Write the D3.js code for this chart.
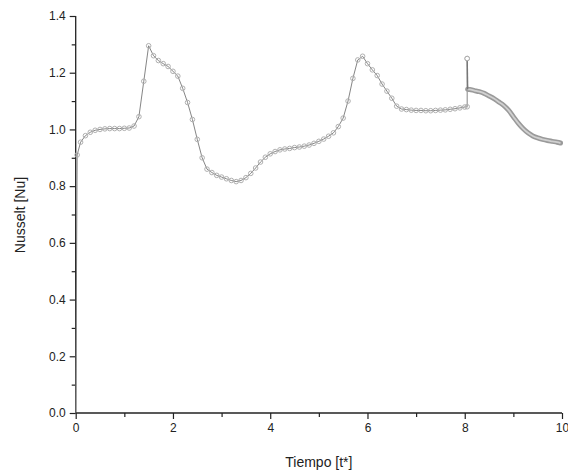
<!DOCTYPE html>
<html><head><meta charset="utf-8">
<script src="https://cdn.jsdelivr.net/npm/d3@7"></script>
<style>body{margin:0;background:#fff}svg{display:block}text{font-family:"Liberation Sans",Arial,sans-serif;fill:#222}</style>
</head><body><svg id="c" width="568" height="475"></svg>
<script>
const xTicks = [0, 2, 4, 6, 8, 10];
const yTicks = [0.0, 0.2, 0.4, 0.6, 0.8, 1.0, 1.2, 1.4];
const xLabel = "Tiempo [t*]";
const yLabel = "Nusselt [Nu]";

const t1 = [0, 0.03, 0.1, 0.2, 0.3, 0.4, 0.5, 0.6, 0.7, 0.8, 0.9, 1.0, 1.1, 1.2, 1.3, 1.4, 1.5, 1.6, 1.7, 1.8, 1.9,
  2.0, 2.1, 2.2, 2.3, 2.4, 2.5, 2.6, 2.7, 2.8, 2.9, 3.0, 3.1, 3.2, 3.3, 3.4, 3.5, 3.6, 3.7, 3.8, 3.9,
  4.0, 4.1, 4.2, 4.3, 4.4, 4.5, 4.6, 4.7, 4.8, 4.9, 5.0, 5.1, 5.2, 5.3, 5.4, 5.5, 5.6, 5.7, 5.8, 5.9,
  6.0, 6.1, 6.2, 6.3, 6.4, 6.5, 6.6, 6.7, 6.8, 6.9, 7.0, 7.1, 7.2, 7.3, 7.4, 7.5, 7.6, 7.7, 7.8, 7.9,
  8.0, 8.05, 8.05];
const nu1 = [0, 0.91, 0.955, 0.978, 0.99, 0.997, 1.0, 1.002, 1.003, 1.003, 1.003, 1.004, 1.005, 1.012, 1.045, 1.17, 1.295, 1.26, 1.243, 1.232, 1.222,
  1.205, 1.188, 1.145, 1.095, 1.035, 0.965, 0.9, 0.86, 0.848, 0.838, 0.832, 0.826, 0.82, 0.816, 0.82, 0.83, 0.845, 0.864, 0.885, 0.902,
  0.914, 0.922, 0.928, 0.931, 0.933, 0.936, 0.938, 0.941, 0.945, 0.951, 0.958, 0.966, 0.976, 0.988, 1.01, 1.04, 1.1, 1.18, 1.245, 1.258,
  1.232, 1.21, 1.19, 1.16, 1.135, 1.11, 1.082, 1.072, 1.07, 1.068, 1.067, 1.067, 1.066, 1.066, 1.067, 1.068, 1.069, 1.071, 1.073, 1.076,
  1.079, 1.08, 1.25];

const t2 = [8.05, 8.06, 8.1, 8.2, 8.3, 8.4, 8.5, 8.6, 8.7, 8.8, 8.9, 9.0, 9.1, 9.2, 9.3, 9.4, 9.5, 9.6, 9.7, 9.8, 9.9, 9.97];
const nu2 = [1.25, 1.142, 1.141, 1.137, 1.133, 1.127, 1.118, 1.109, 1.097, 1.085, 1.068, 1.045, 1.022, 1.003, 0.988, 0.977, 0.97, 0.965, 0.961, 0.958, 0.955, 0.952];

const svg = d3.select("#c");
const x = d3.scaleLinear().domain([0, 10]).range([75.7, 562]);
const y = d3.scaleLinear().domain([0, 1.4]).range([413, 16]);

// axes
const gx = svg.append("g").attr("transform", "translate(0,413)");
gx.call(d3.axisBottom(x).tickValues(xTicks).tickFormat(d3.format("d")).tickSize(6).tickPadding(4))
  .call(g => g.select(".domain").attr("stroke", "#222").attr("stroke-width", 1.3).attr("d", "M75.7,0H562"));
gx.append("g").call(d3.axisBottom(x).tickValues([1,3,5,7,9]).tickSize(4).tickFormat(""))
  .call(g => g.select(".domain").remove());
gx.selectAll("line").attr("stroke", "#222").attr("stroke-width", 1.2);
gx.selectAll("text").attr("font-size", 12).attr("fill", "#222");

const gy = svg.append("g").attr("transform", "translate(75.7,0)");
gy.call(d3.axisLeft(y).tickValues(yTicks).tickFormat(d3.format(".1f")).tickSize(6).tickPadding(4))
  .call(g => g.select(".domain").attr("stroke", "#222").attr("stroke-width", 1.3).attr("d", "M0,16V413"));
gy.append("g").call(d3.axisLeft(y).tickValues([0.1,0.3,0.5,0.7,0.9,1.1,1.3]).tickSize(4).tickFormat(""))
  .call(g => g.select(".domain").remove());
gy.selectAll("line").attr("stroke", "#222").attr("stroke-width", 1.2);
gy.selectAll("text").attr("font-size", 12).attr("fill", "#222");

svg.append("text").attr("x", (x(0)+x(10))/2).attr("y", 467).attr("text-anchor", "middle")
  .attr("font-size", 14).text(xLabel);
svg.append("text").attr("transform", "translate(25,215) rotate(-90)").attr("text-anchor", "middle")
  .attr("font-size", 14).text(yLabel);

const d1 = t1.map((t, i) => [t, nu1[i]]);
const d2 = t2.map((t, i) => [t, nu2[i]]);
const line = d3.line().x(d => x(d[0])).y(d => y(d[1]));

// series 1: thin line + open circle markers
svg.append("path").datum(d1).attr("d", line).attr("fill", "none").attr("stroke", "#777").attr("stroke-width", 0.9);
svg.append("g").selectAll("circle").data(d1.slice(1)).join("circle")
  .attr("cx", d => x(d[0])).attr("cy", d => y(d[1])).attr("r", 2.3)
  .attr("fill", "none").attr("stroke", "#b0b0b0").attr("stroke-width", 1);

// series 2: dense markers appear as a thick band
const curveLine = d3.line().x(d => x(d[0])).y(d => y(d[1])).curve(d3.curveMonotoneX);
svg.append("path").datum(d2.slice(1)).attr("d", curveLine).attr("fill", "none")
  .attr("stroke", "#9a9a9a").attr("stroke-width", 5).attr("stroke-linecap", "round");
svg.append("path").datum(d2.slice(1)).attr("d", curveLine).attr("fill", "none")
  .attr("stroke", "#d0d0d0").attr("stroke-width", 1.8);
svg.append("path").datum(d2.slice(0, 2)).attr("d", line).attr("fill", "none")
  .attr("stroke", "#777").attr("stroke-width", 1.4);
svg.append("circle").attr("cx", x(t2[0])).attr("cy", y(nu2[0])).attr("r", 2.3)
  .attr("fill", "#fff").attr("stroke", "#aaa").attr("stroke-width", 1);
</script></body></html>
